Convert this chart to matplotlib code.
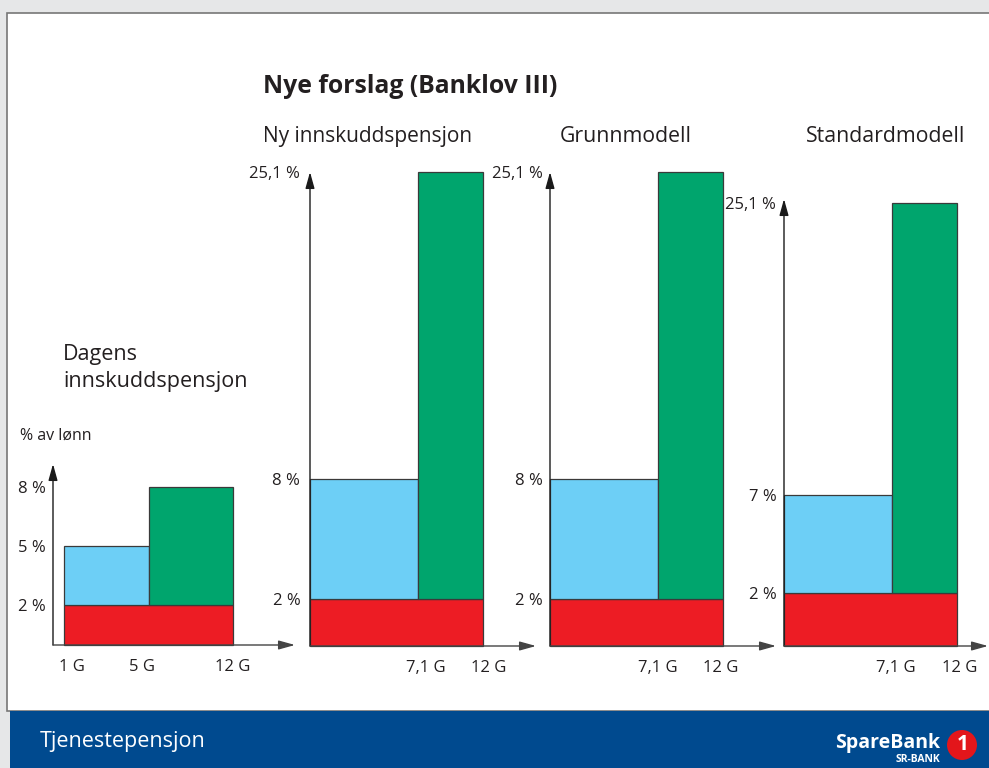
import numpy as np
import matplotlib.pyplot as plt
from matplotlib.patches import Rectangle, Ellipse
from matplotlib.transforms import ScaledTranslation

W, H = 989, 768

# innskudd i % av lønn, brudd i G
titles = ["Dagens\ninnskuddspensjon", "Ny innskuddspensjon", "Grunnmodell", "Standardmodell"]
g_breaks = [[1, 5, 12], [0, 7.1, 12], [0, 7.1, 12], [0, 7.1, 12]]
g_ticks = [[1, 5, 12], [7.1, 12], [7.1, 12], [7.1, 12]]
g_labels = [["1 G", "5 G", "12 G"], ["7,1 G", "12 G"], ["7,1 G", "12 G"], ["7,1 G", "12 G"]]
base_rate = [2, 2, 2, 2]
low_rate = [5, 8, 8, 7]
high_rate = [8, 25.1, 25.1, 25.1]
rate_labels = [["2 %", "5 %", "8 %"], ["2 %", "8 %", "25,1 %"],
               ["2 %", "8 %", "25,1 %"], ["2 %", "7 %", "25,1 %"]]

RED = '#ed1c24'
BLUE = '#6dcff6'
GREEN = '#00a56d'
EDGE = '#3a3a3a'
TXT = '#231f20'
FOOT = '#004a8f'

plt.rcParams['font.family'] = ['Open Sans', 'DejaVu Sans']


def power(p):
    return (lambda v: np.sign(v) * np.abs(v) ** p,
            lambda v: np.sign(v) * np.abs(v) ** (1.0 / p))


# pixel boxes: left, right, bottom, top
layout = [
    dict(box=(53, 295, 645, 464), xlim=(0.705, 19.07), ylim=(0, 9.16), px=0.5, py=1.0,
         ypad=5, xshift=[8, -7, 0]),
    dict(box=(310, 536, 646, 172), xlim=(0, 16.2), ylim=(0, 25.1), px=0.9, py=0.91,
         ypad=7, xshift=[8, 6]),
    dict(box=(550, 776, 646, 172), xlim=(0, 16.2), ylim=(0, 25.1), px=0.9, py=0.91,
         ypad=5, xshift=[0, -2]),
    dict(box=(784, 988, 646, 199), xlim=(0, 14.4), ylim=(0, 25.4), px=0.9, py=0.84,
         ypad=5.5, xshift=[4, 3]),
]

fig = plt.figure(figsize=(W / 100, H / 100), dpi=100)
fig.patch.set_facecolor('#e6e7e8')

# slide background and footer
fig.add_artist(Rectangle((7 / W, 1 - 711 / H), 1, (711 - 13) / H, transform=fig.transFigure,
                         facecolor='white', edgecolor='#777777', lw=1.2, zorder=-2))
fig.add_artist(Rectangle((10 / W, 0), 1, (768 - 711) / H, transform=fig.transFigure,
                         facecolor=FOOT, edgecolor='none', zorder=-1))

for i in range(4):
    lay = layout[i]
    l, r, b, t = lay['box']
    ax = fig.add_axes([l / W, 1 - b / H, (r - l) / W, (b - t) / H])
    ax.set_facecolor('none')
    if lay['px'] != 1.0:
        ax.set_xscale('function', functions=power(lay['px']))
    if lay['py'] != 1.0:
        ax.set_yscale('function', functions=power(lay['py']))

    xs = g_breaks[i]
    ax.bar(xs[0], base_rate[i], width=xs[2] - xs[0], align='edge',
           color=RED, edgecolor=EDGE, lw=0.9, clip_on=False)
    ax.bar(xs[0], low_rate[i] - base_rate[i], width=xs[1] - xs[0], bottom=base_rate[i],
           align='edge', color=BLUE, edgecolor=EDGE, lw=0.9, clip_on=False)
    ax.bar(xs[1], high_rate[i] - base_rate[i], width=xs[2] - xs[1], bottom=base_rate[i],
           align='edge', color=GREEN, edgecolor=EDGE, lw=0.9, clip_on=False)

    ax.set_xlim(*lay['xlim'])
    ax.set_ylim(*lay['ylim'])
    ax.set_xticks(g_ticks[i], g_labels[i])
    ax.set_yticks([base_rate[i], low_rate[i], high_rate[i]], rate_labels[i])
    ax.minorticks_off()
    ax.tick_params(axis='both', length=0, labelsize=12, colors=TXT)
    ax.tick_params(axis='x', pad=10)
    ax.tick_params(axis='y', pad=lay['ypad'])
    for lbl, dx in zip(ax.get_xticklabels(), lay['xshift']):
        lbl.set_transform(lbl.get_transform() + ScaledTranslation(dx / 100, 0, fig.dpi_scale_trans))
    for s in ax.spines.values():
        s.set_visible(False)

    head = '-|>,head_length=0.9,head_width=0.25'
    ax.annotate('', xy=(0, 1), xytext=(0, 0), xycoords='axes fraction',
                arrowprops=dict(arrowstyle=head, color='#1a1a1a', lw=1,
                                shrinkA=0, shrinkB=0, mutation_scale=11),
                annotation_clip=False)
    ax.annotate('', xy=(1, 0), xytext=(0, 0), xycoords='axes fraction',
                arrowprops=dict(arrowstyle=head, color='#444444', lw=1,
                                shrinkA=0, shrinkB=0, mutation_scale=11),
                annotation_clip=False)


def ftext(x, y, s, **kw):
    kw.setdefault('color', TXT)
    fig.text(x / W, 1 - y / H, s, va='baseline', **kw)


ftext(263, 93, "Nye forslag (Banklov III)", fontsize=17.8, fontweight='bold')
first, second = titles[0].split("\n")
ftext(63, 360, first, fontsize=15.5)
ftext(63, 387, second, fontsize=15.5)
ftext(263, 142, titles[1], fontsize=15)
ftext(560, 142, titles[2], fontsize=15.3)
ftext(806, 142, titles[3], fontsize=15.3)
ftext(20, 440, "% av lønn", fontsize=11.5)

# footer
ftext(40, 747, "Tjenestepensjon", fontsize=15.5, color='white')
ftext(940, 748, "SpareBank", fontsize=14, fontweight='bold', color='white', ha='right')
ftext(940, 762, "SR-BANK", fontsize=7.5, fontweight='bold', color='white', ha='right')
fig.add_artist(Ellipse((962 / W, 1 - 745 / H), 30 / W, 30 / H, transform=fig.transFigure,
                       facecolor='#e3161b', edgecolor='none', zorder=5))
fig.text(963 / W, 1 - 745 / H, "1", fontsize=15, fontweight='bold', color='white',
         ha='center', va='center', zorder=6)

fig.savefig('out.png', dpi=100, facecolor=fig.get_facecolor())
